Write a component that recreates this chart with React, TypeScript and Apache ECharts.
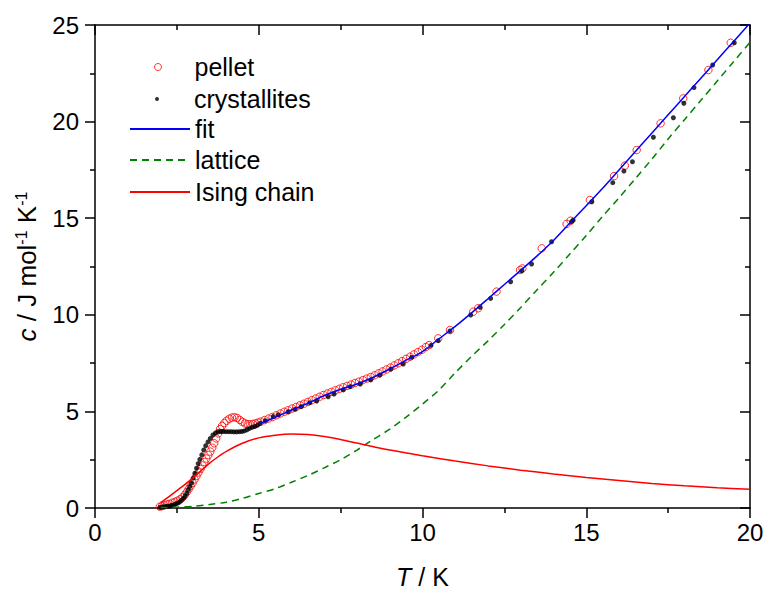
import React, { useEffect, useRef } from "react";
import * as echarts from "echarts";

// ---- data ----
const pelletT = [
  1.98, 2.05, 2.12, 2.2, 2.28, 2.36, 2.44, 2.52, 2.6, 2.67, 2.74, 2.8, 2.86, 2.92, 2.98,
  3.04, 3.1, 3.16, 3.22, 3.28, 3.34, 3.4, 3.46, 3.52, 3.58, 3.64, 3.7, 3.76, 3.82, 3.88,
  3.95, 4.02, 4.1, 4.18, 4.26, 4.34, 4.42, 4.5, 4.58, 4.66, 4.74, 4.82, 4.9, 4.98,
  5.06, 5.18, 5.3, 5.42, 5.54, 5.66, 5.78, 5.9, 6.02, 6.14, 6.26, 6.38, 6.5, 6.62, 6.74,
  6.86, 6.98, 7.1, 7.22, 7.34, 7.46, 7.58, 7.7, 7.82, 7.94, 8.06, 8.18, 8.3, 8.42, 8.54,
  8.66, 8.78, 8.9, 9.02, 9.14, 9.26, 9.38, 9.5, 9.62, 9.74, 9.86, 9.98, 10.1, 10.2,
  10.48, 10.84, 11.55, 11.7, 12.26, 12.98, 13.05, 13.64, 14.4, 14.52, 15.11, 15.85, 16.18,
  16.54, 17.27, 17.96, 18.73, 19.41,
];
const pelletC = [
  0.07, 0.1, 0.14, 0.18, 0.22, 0.27, 0.32, 0.38, 0.45, 0.55, 0.68, 0.82, 0.98, 1.14, 1.3,
  1.48, 1.66, 1.84, 2.02, 2.2, 2.38, 2.56, 2.74, 2.92, 3.12, 3.35, 3.6, 3.86, 4.08, 4.25,
  4.4, 4.52, 4.62, 4.68, 4.7, 4.66, 4.56, 4.46, 4.38, 4.34, 4.33, 4.35, 4.38, 4.42,
  4.47, 4.55, 4.63, 4.71, 4.8, 4.89, 4.98, 5.06, 5.15, 5.23, 5.32, 5.4, 5.49, 5.58, 5.67,
  5.76, 5.85, 5.93, 6.01, 6.09, 6.17, 6.25, 6.32, 6.39, 6.47, 6.54, 6.62, 6.7, 6.78, 6.87,
  6.97, 7.07, 7.17, 7.27, 7.38, 7.49, 7.6, 7.72, 7.83, 7.95, 8.07, 8.19, 8.33, 8.43,
  8.78, 9.21, 10.16, 10.34, 11.2, 12.32, 12.4, 13.44, 14.7, 14.87, 15.94, 17.18, 17.72,
  18.53, 19.91, 21.2, 22.67, 24.08,
];

const crystT = [
  1.98, 2.04, 2.1, 2.16, 2.22, 2.28, 2.34, 2.4, 2.46, 2.52, 2.58, 2.64, 2.7, 2.75, 2.8,
  2.85, 2.9, 2.95, 3.0, 3.05, 3.1, 3.15, 3.2, 3.26, 3.32, 3.38, 3.45, 3.52, 3.6, 3.68,
  3.76, 3.84, 3.92, 4.0, 4.08, 4.16, 4.24, 4.32, 4.4, 4.48, 4.56, 4.64, 4.72, 4.8, 4.88,
  4.96, 5.04, 5.2, 5.44, 5.6, 5.9, 6.11, 6.3, 6.56, 6.77, 7.12, 7.3, 7.58, 7.79, 8.1,
  8.42, 8.7, 9.03, 9.41, 9.67, 10.26, 10.48, 10.84, 11.47, 11.76, 12.08, 12.69, 13.03,
  13.33, 13.94, 14.55, 14.6, 15.17, 15.81, 16.15, 16.41, 17.05, 17.66, 17.98, 18.29,
  18.86, 19.52,
];
const crystC = [
  0.03, 0.05, 0.06, 0.08, 0.09, 0.1, 0.13, 0.16, 0.2, 0.25, 0.31, 0.4, 0.5, 0.62, 0.76,
  0.95, 1.12, 1.3, 1.55, 1.8, 2.06, 2.3, 2.52, 2.75, 3.0, 3.22, 3.42, 3.6, 3.78, 3.88,
  3.94, 3.96, 3.96, 3.95, 3.95, 3.95, 3.94, 3.94, 3.95, 3.96, 3.99, 4.05, 4.12, 4.18, 4.22,
  4.28, 4.38, 4.52, 4.73, 4.82, 4.98, 5.11, 5.25, 5.45, 5.54, 5.76, 5.9, 6.11, 6.28, 6.42,
  6.63, 6.88, 7.19, 7.45, 7.8, 8.42, 8.66, 9.16, 9.99, 10.39, 10.85, 11.71, 12.28,
  12.63, 13.78, 14.82, 14.9, 15.85, 16.84, 17.44, 17.92, 19.19, 20.2, 20.95, 21.76,
  22.93, 24.08,
];

const fitT = [5, 5.5, 6, 6.5, 7, 7.5, 8, 8.5, 9, 9.5, 10, 10.5, 11, 11.5, 12, 12.5, 13, 13.5, 14, 14.5, 15, 15.5, 16, 16.5, 17, 17.5, 18, 18.5, 19, 19.5, 20];
const fitC = [4.35, 4.7, 5.07, 5.42, 5.82, 6.15, 6.42, 6.77, 7.2, 7.65, 8.1, 8.75, 9.4, 10.1, 10.83, 11.57, 12.3, 13.05, 13.85, 14.75, 15.65, 16.55, 17.5, 18.45, 19.4, 20.35, 21.3, 22.25, 23.2, 24.15, 25.1];

const latticeT = [2, 2.5, 3, 3.5, 4, 4.5, 5, 5.5, 6, 6.5, 7, 7.5, 8, 8.5, 9, 9.5, 10, 10.5, 11, 11.5, 12, 12.5, 13, 13.5, 14, 14.5, 15, 15.5, 16, 16.5, 17, 17.5, 18, 18.5, 19, 19.5, 20];
const latticeC = [0.02, 0.04, 0.09, 0.18, 0.3, 0.5, 0.75, 1.0, 1.33, 1.68, 2.08, 2.5, 3.0, 3.55, 4.08, 4.7, 5.38, 6.1, 7.0, 7.85, 8.65, 9.5, 10.38, 11.3, 12.2, 13.15, 14.1, 15.1, 16.05, 17.05, 18.05, 19.1, 20.1, 21.1, 22.1, 23.1, 24.1];

const isingT = [2, 2.25, 2.5, 2.75, 3, 3.25, 3.5, 3.75, 4, 4.5, 5, 5.5, 6, 6.5, 7, 7.5, 8, 8.5, 9, 9.5, 10, 11, 12, 13, 14, 15, 16, 17, 18, 19, 20];
const isingC = [0.28, 0.58, 0.9, 1.22, 1.57, 1.95, 2.32, 2.64, 2.92, 3.35, 3.63, 3.77, 3.83, 3.8, 3.7, 3.55, 3.36, 3.17, 3.0, 2.85, 2.7, 2.43, 2.18, 1.96, 1.76, 1.58, 1.42, 1.27, 1.15, 1.05, 0.97];

const xRange = [0, 20];
const yRange = [0, 25];
const majorStep = 5;

const pairs = (xs: number[], ys: number[]) => xs.map((x, i) => [x, ys[i]]);

const FONT = '"Liberation Sans", Arial, sans-serif';

export default function App() {
  const ref = useRef<HTMLDivElement>(null);
  useEffect(() => {
    if (!ref.current) return;
    const chart = echarts.init(ref.current, undefined, { renderer: "svg" });
    const axisLine = { show: true, onZero: false, lineStyle: { color: "#000", width: 1.5 } };
    const tickStyle = { color: "#000", width: 1.5 };
    const mkX = (pos: "bottom" | "top") => ({
      type: "value" as const,
      position: pos,
      min: xRange[0],
      max: xRange[1],
      interval: majorStep,
      axisLine,
      axisTick: { show: true, inside: pos === "top", length: 10, lineStyle: tickStyle },
      minorTick: { show: true, splitNumber: 2, length: 5, lineStyle: tickStyle },
      splitLine: { show: false },
      axisLabel: {
        show: pos === "bottom",
        fontSize: 24,
        color: "#000",
        fontFamily: FONT,
        margin: 12,
      },
      ...(pos === "bottom"
        ? {
            name: "{i|T} / K",
            nameLocation: "middle" as const,
            nameGap: 56,
            nameTextStyle: {
              fontSize: 25,
              color: "#000",
              fontFamily: FONT,
              rich: { i: { fontSize: 25, fontStyle: "italic", color: "#000", fontFamily: FONT } },
            },
          }
        : {}),
    });
    const mkY = (pos: "left" | "right") => ({
      type: "value" as const,
      position: pos,
      min: yRange[0],
      max: yRange[1],
      interval: majorStep,
      axisLine,
      axisTick: { show: true, inside: pos === "right", length: 10, lineStyle: tickStyle },
      minorTick: { show: true, splitNumber: 2, length: 5, lineStyle: tickStyle },
      splitLine: { show: false },
      axisLabel: {
        show: pos === "left",
        fontSize: 24,
        color: "#000",
        fontFamily: FONT,
        margin: 16,
      },
      ...(pos === "left"
        ? {
            name: "{i|c} / J mol{sup|-1} K{sup|-1}",
            nameLocation: "middle" as const,
            nameRotate: 90,
            nameGap: 47,
            nameTextStyle: {
              fontSize: 26,
              color: "#000",
              fontFamily: FONT,
              lineHeight: 28,
              rich: {
                i: { fontSize: 26, fontStyle: "italic", color: "#000", fontFamily: FONT, lineHeight: 28 },
                sup: { fontSize: 16, color: "#000", fontFamily: FONT, lineHeight: 15, verticalAlign: "top" },
              },
            },
          }
        : {}),
    });

    const legendText = { fontSize: 25, color: "#000", fontFamily: FONT, lineHeight: 26 };
    const legendCommon = {
      orient: "horizontal" as const,
      padding: 0,
      itemGap: 0,
      selectedMode: false,
      textStyle: legendText,
    };
    const lineLegend = { ...legendCommon, itemWidth: 60, itemHeight: 14, itemStyle: { color: "rgba(0,0,0,0)", borderWidth: 0, opacity: 0 } };

    chart.setOption({
      animation: false,
      backgroundColor: "#fff",
      grid: { left: 95, right: 16, top: 25, bottom: 81, containLabel: false, outerBoundsMode: "none" },
      xAxis: [mkX("bottom"), mkX("top")],
      yAxis: [mkY("left"), mkY("right")],
      legend: [
        { ...legendCommon, data: ["pellet"], left: 154, top: 54, itemWidth: 7, itemHeight: 7, itemStyle: { borderWidth: 1 }, textStyle: { ...legendText, padding: [0, 0, 0, 28] } },
        { ...legendCommon, data: ["crystallites"], left: 155, top: 86, itemWidth: 4, itemHeight: 4, textStyle: { ...legendText, padding: [0, 0, 0, 30] } },
        { ...lineLegend, data: ["fit"], left: 129, top: 116 },
        { ...lineLegend, data: ["lattice"], left: 129, top: 147 },
        { ...lineLegend, data: ["Ising chain"], left: 129, top: 179 },
      ],
      series: [
        {
          name: "pellet",
          type: "scatter",
          data: pairs(pelletT, pelletC),
          symbol: "circle",
          symbolSize: 7.5,
          itemStyle: { color: "rgba(255,255,255,0)", borderColor: "#ff0000", borderWidth: 1 },
          silent: true,
        },
        {
          name: "lattice",
          type: "line",
          data: pairs(latticeT, latticeC),
          symbol: "none",
          smooth: 0.3,
          lineStyle: { color: "#008000", width: 1.5, type: [7, 5] },
          itemStyle: { color: "#008000" },
          silent: true,
        },
        {
          name: "Ising chain",
          type: "line",
          data: pairs(isingT, isingC),
          symbol: "none",
          smooth: 0.3,
          lineStyle: { color: "#ff0000", width: 1.5 },
          itemStyle: { color: "#ff0000" },
          silent: true,
        },
        {
          name: "fit",
          type: "line",
          data: pairs(fitT, fitC),
          symbol: "none",
          smooth: 0.3,
          lineStyle: { color: "#0000ff", width: 1.5 },
          itemStyle: { color: "#0000ff" },
          silent: true,
        },
        {
          name: "crystallites",
          type: "scatter",
          data: pairs(crystT, crystC),
          symbol: "circle",
          symbolSize: 5,
          itemStyle: { color: "#000" },
          silent: true,
        },
      ],
    });
    return () => chart.dispose();
  }, []);
  return (
    <div
      ref={ref}
      style={{ position: "fixed", left: 0, top: 0, width: 766, height: 589, background: "#fff" }}
    />
  );
}
